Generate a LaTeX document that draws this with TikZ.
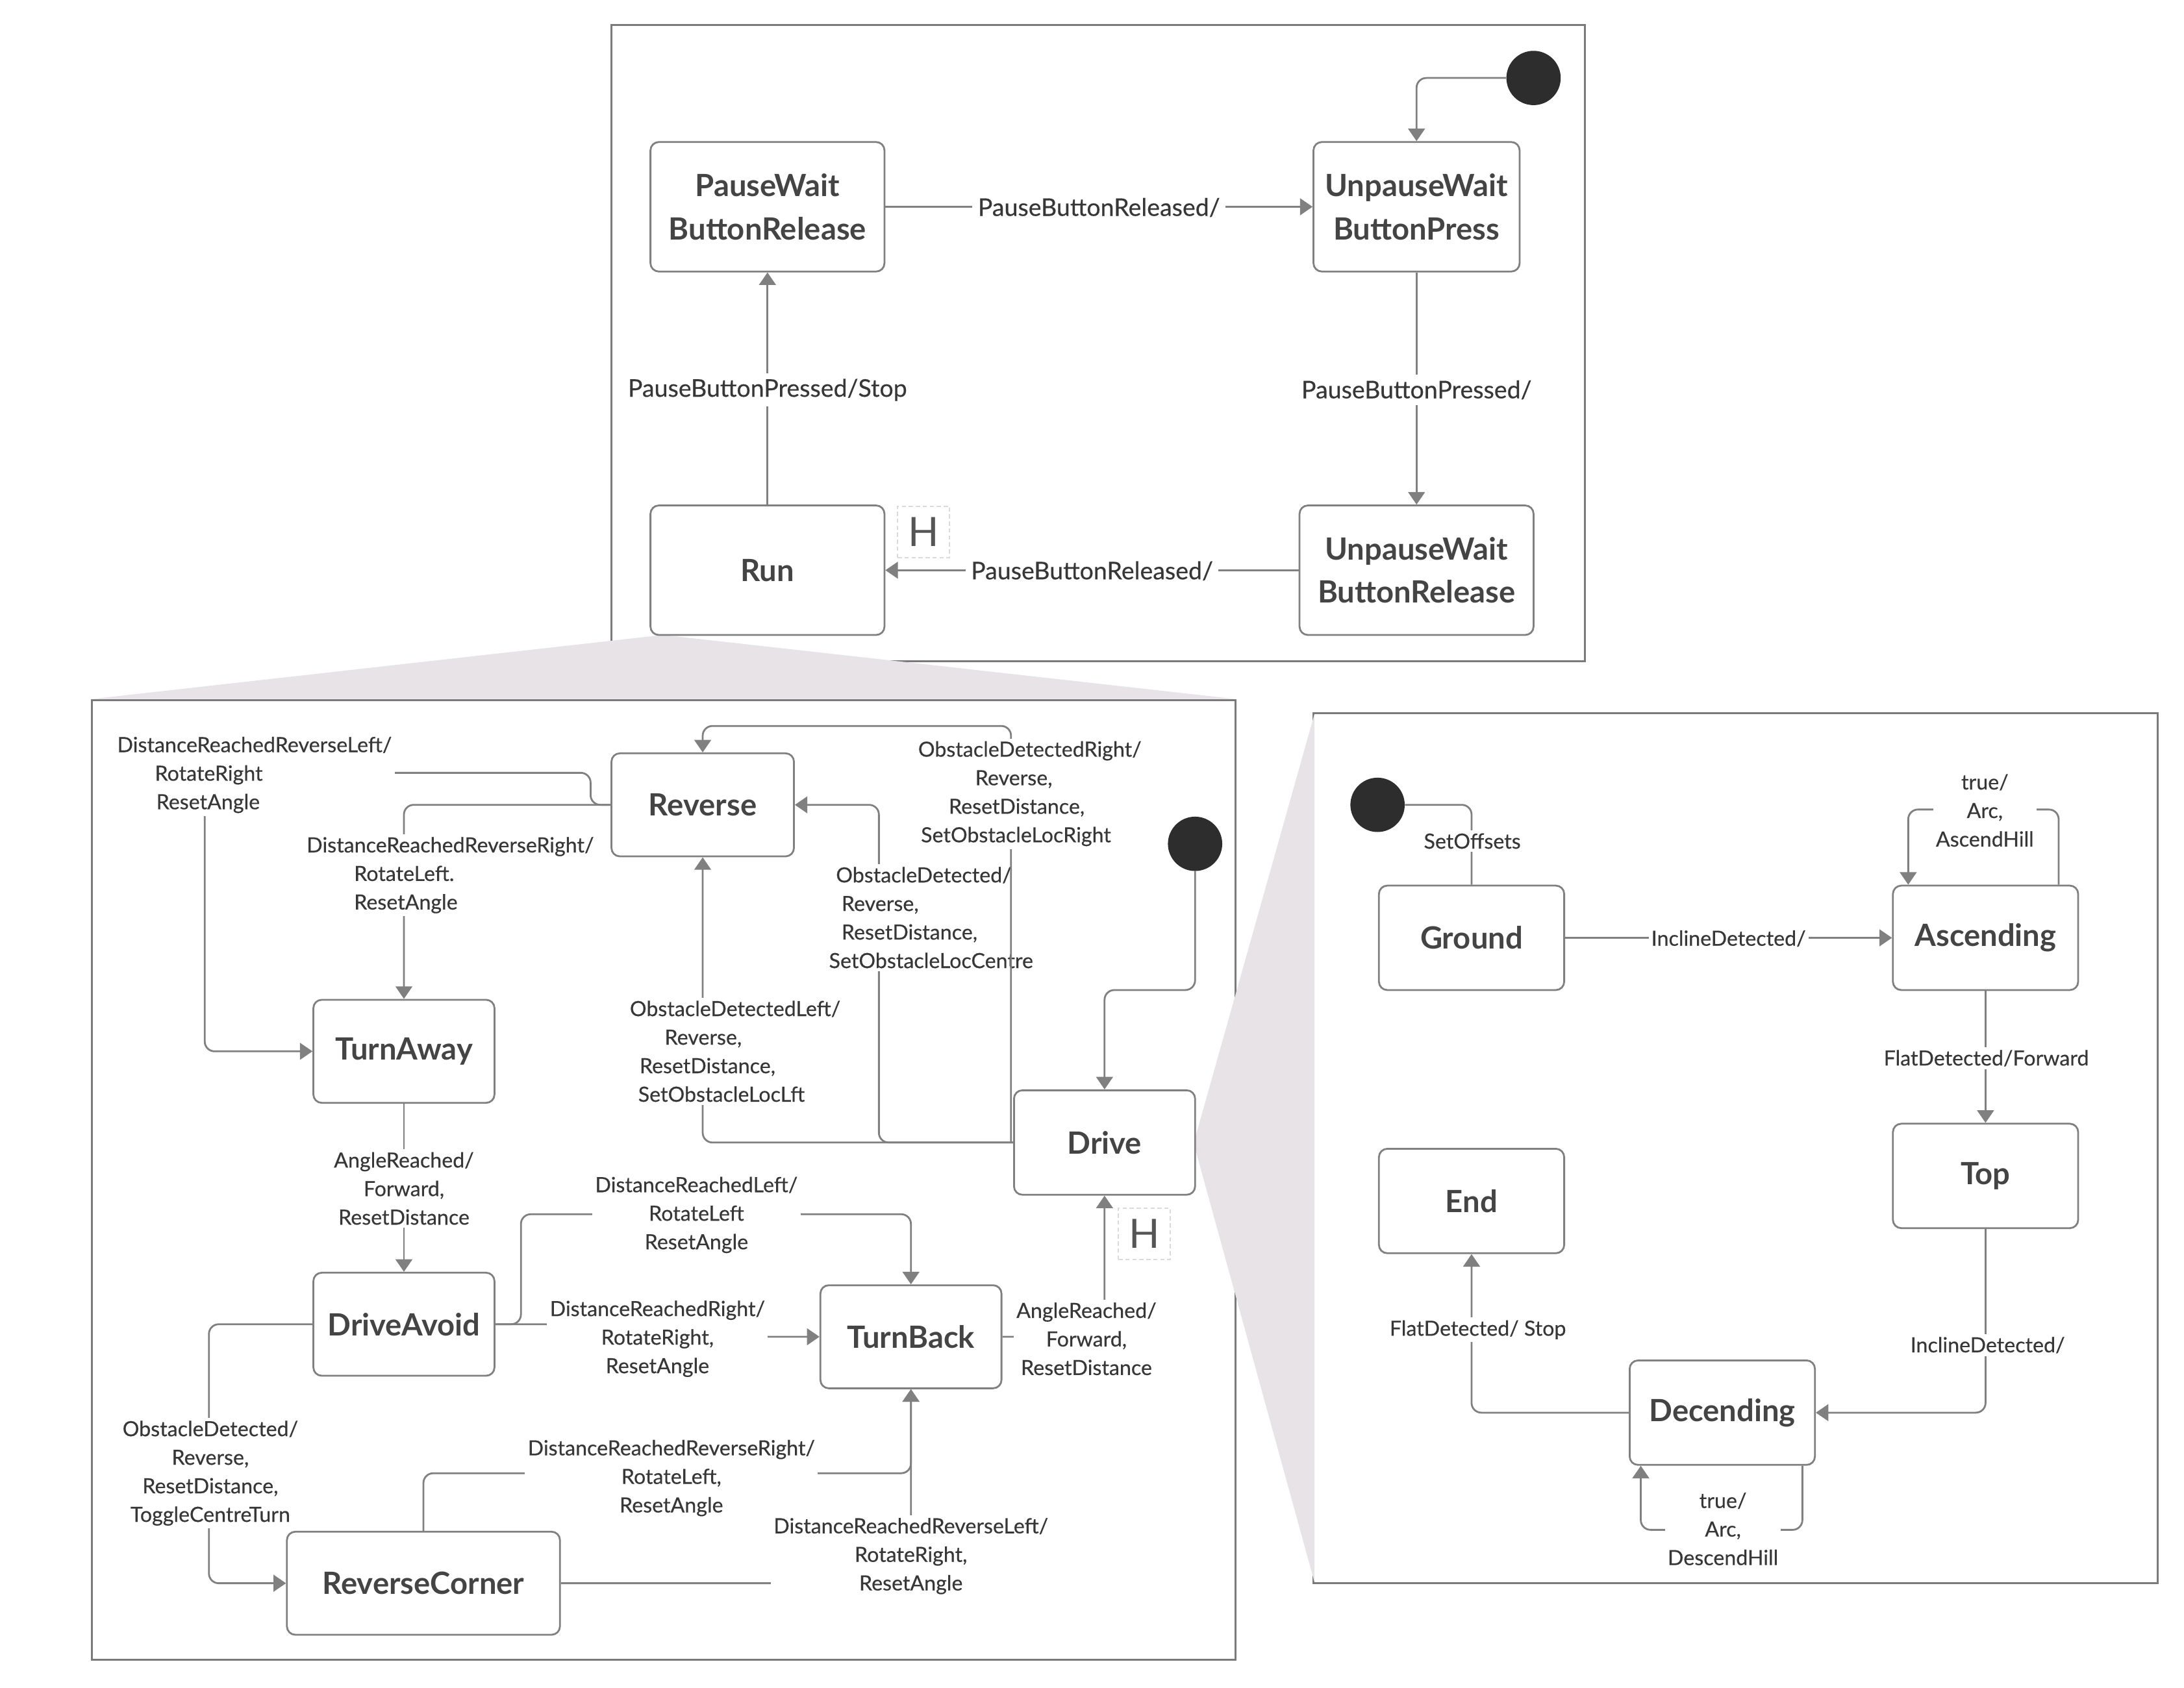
\documentclass[tikz,border=0pt]{standalone}
\usepackage{fontspec}
\setmainfont{Lato}
\newfontfamily\lblfam{Lato}[FakeBold=0.4]
\usetikzlibrary{arrows.meta}
\definecolor{lgray}{RGB}{128,128,128}
\definecolor{bgray}{RGB}{122,122,122}
\definecolor{stxt}{RGB}{68,68,68}
\definecolor{ltxt}{RGB}{55,55,55}
\definecolor{wedgec}{RGB}{231,227,231}
\definecolor{dotc}{RGB}{45,45,45}
\definecolor{hdash}{RGB}{218,218,218}
\definecolor{htxt}{RGB}{85,85,85}
\newcommand\stfont{\bfseries\fontsize{22}{31}\selectfont}
\newcommand\lfont{\lblfam\fontsize{15}{20.5}\selectfont}
\newcommand\tfont{\lblfam\fontsize{17.5}{22}\selectfont}
\newcommand\hfont{\fontsize{29}{32}\selectfont}
\begin{document}
\begin{tikzpicture}[x=1pt,y=-1pt,
  container/.style={draw=bgray,line width=1.5pt,fill=white},
  state/.style={draw=lgray,line width=1.3pt,fill=white,rounded corners=6pt,text=stxt,font=\stfont,align=center,inner sep=0pt},
  conn/.style={draw=lgray,line width=1.3pt,rounded corners=7pt,-{Triangle[width=12pt,length=9pt]}},
  plainc/.style={draw=lgray,line width=1.3pt,rounded corners=7pt},
  lbl/.style={fill=white,inner sep=2pt,text=ltxt,font=\lfont,align=center},
  tlbl/.style={fill=white,inner sep=4pt,text=ltxt,font=\tfont,align=center},
  llbl/.style={lbl,align=left,anchor=west},
  initdot/.style={circle,fill=dotc,minimum size=39pt,inner sep=0pt},
  hist/.style={draw=hdash,dash pattern=on 3pt off 2pt,line width=1pt,minimum width=37pt,minimum height=37pt,text=htxt,font=\hfont,inner sep=0pt},
]
\useasboundingbox (0,0) rectangle (1568,1212);
% containers
\draw[container] (439,18) rectangle (1138,475);
\draw[container] (66,503) rectangle (887,1192);
\draw[container] (943,512) rectangle (1549,1137);
% zoom wedges
\fill[wedgec] (476,456) -- (66,502) -- (887,502) -- cycle;
\fill[wedgec] (857,821) -- (943.7,512.8) -- (943.7,1136.2) -- cycle;

% ---------- top machine
\node[state,minimum width=168pt,minimum height=93pt] (pw) at (551,148.5) {PauseWait\\ButtonRelease};
\node[state,minimum width=148pt,minimum height=93pt] (uwbp) at (1017,148.5) {UnpauseWait\\ButtonPress};
\node[state,minimum width=168pt,minimum height=93pt] (run) at (551,409.5) {Run};
\node[state,minimum width=168pt,minimum height=93pt] (uwbr) at (1017,409.5) {UnpauseWait\\ButtonRelease};
\node[initdot] (i1) at (1101,56) {};
\node[hist] (h1) at (663,382) {H};

\draw[conn] (i1.west) -| (uwbp.north);
\draw[conn] (pw.east) -- (uwbp.west);
\draw[conn] (uwbp.south) -- (uwbr.north);
\draw[conn] (uwbr.west) -- (run.east);
\draw[conn] (run.north) -- (pw.south);
\node[tlbl] (t1) at (789,149) {PauseButtonReleased/};
\node[tlbl] (t2) at (1017,280) {PauseButtonPressed/};
\node[tlbl] (t3) at (784,410) {PauseButtonReleased/};
\node[tlbl] (t4) at (551,280) {PauseButtonPressed/Stop};

% ---------- run sub-machine
\node[state,minimum width=131pt,minimum height=74pt] (rev) at (504.5,578) {Reverse};
\node[state,minimum width=130pt,minimum height=74pt] (ta) at (290,755) {TurnAway};
\node[state,minimum width=130pt,minimum height=75pt] (drv) at (793,820.5) {Drive};
\node[state,minimum width=130pt,minimum height=74pt] (da) at (290,951) {DriveAvoid};
\node[state,minimum width=130pt,minimum height=74pt] (tb) at (654,960) {TurnBack};
\node[state,minimum width=196pt,minimum height=74pt] (rc) at (304,1137) {ReverseCorner};
\node[initdot] (i2) at (858,606) {};
\node[hist] (h2) at (821.5,886) {H};

\draw[conn] (rev.west) -- (424,578) -- (424,555) -- (147,555) -- (147,755) -- (ta.west);
\draw[conn] (rev.west) -- (290,578) -- (ta.north);
\draw[conn] (drv.west) -- (631,820.5) -- (631,578) -- (rev.east);
\draw[conn] (drv.west) -| (rev.south);
\draw[conn] (i2.south) -- (858,711) -- (793,711) -- (drv.north);
\draw[conn] (ta.south) -- (da.north);
\draw[conn] (da.east) -- (374,951) -- (374,872) -- (654,872) -- (tb.north);
\draw[conn] (da.east) -- (472,951) -- (472,960) -- (tb.west);
\draw[conn] (tb.east) -| (drv.south);
\draw[conn] (da.west) -- (150,951) -- (150,1137) -- (rc.west);
\draw[conn] (rc.north) -- (304,1058) -- (654,1058) -- (tb.south);
\draw[conn] (rc.east) -| (tb.south);

\node[llbl] (ld) at (593,659) {\hspace*{5pt}ObstacleDetected/\\\hspace*{9pt}Reverse,\\\hspace*{9pt}ResetDistance,\\SetObstacleLocCentre};
\draw[conn] ([xshift=-1.5pt]drv.west) |- ([yshift=19pt]rev.north) -- (rev.north);

\node[llbl] (la) at (82,556.5) {DistanceReachedReverseLeft/\\\hspace*{27pt}RotateRight\\\hspace*{28pt}ResetAngle};
\node[llbl] (lb) at (218,628.5) {DistanceReachedReverseRight/\\\hspace*{34pt}RotateLeft.\\\hspace*{34pt}ResetAngle};
\node[llbl] (lc) at (657,570) {ObstacleDetectedRight/\\\hspace*{41pt}Reverse,\\\hspace*{22pt}ResetDistance,\\\hspace*{2pt}SetObstacleLocRight};
\node[llbl] (le) at (450,755) {ObstacleDetectedLeft/\\\hspace*{25pt}Reverse,\\\hspace*{7pt}ResetDistance,\\\hspace*{6pt}SetObstacleLocLft};
\node[lbl] (lf) at (290,853.5) {AngleReached/\\Forward,\\ResetDistance};
\node[lbl] (lg) at (500,872.5) {DistanceReachedLeft/\\RotateLeft\\ResetAngle};
\node[lbl] (lh) at (472,961.5) {DistanceReachedRight/\\RotateRight,\\ResetAngle};
\node[lbl] (li) at (780,961.5) {AngleReached/\\Forward,\\ResetDistance};
\node[lbl] (lj) at (151,1058) {ObstacleDetected/\\Reverse,\\ResetDistance,\\ToggleCentreTurn};
\node[lbl] (lk) at (482,1061.5) {DistanceReachedReverseRight/\\RotateLeft,\\ResetAngle};
\node[lbl] (ll) at (654,1117.5) {DistanceReachedReverseLeft/\\RotateRight,\\ResetAngle};

% ---------- hill sub-machine
\node[state,minimum width=133pt,minimum height=75pt] (gr) at (1056.5,673.5) {Ground};
\node[state,minimum width=133pt,minimum height=75pt] (asc) at (1425.5,673.5) {Ascending};
\node[state,minimum width=133pt,minimum height=75pt] (topst) at (1425.5,844.5) {Top};
\node[state,minimum width=133pt,minimum height=75pt] (endst) at (1056.5,862.5) {End};
\node[state,minimum width=133pt,minimum height=75pt] (dec) at (1236.5,1014.5) {Decending};
\node[initdot] (i3) at (989,578) {};

\draw[plainc] (i3.east) -| (gr.north);
\draw[conn] (gr.east) -- (asc.west);
\draw[conn] ([xshift=52.5pt]asc.north) -- ++(0,-54) -| ([xshift=-55.5pt]asc.north);
\draw[conn] (asc.south) -- (topst.north);
\draw[conn] (topst.south) |- (dec.east);
\draw[conn] (dec.west) -| (endst.south);
\draw[conn] ([xshift=57.5pt]dec.south) -- ++(0,46) -| ([xshift=-58.5pt]dec.south);

\node[lbl] (r1) at (1057,604) {SetOffsets};
\node[lbl] (r2) at (1241,674) {InclineDetected/};
\node[lbl] (r3) at (1425,582) {true/\\Arc,\\AscendHill};
\node[lbl] (r4) at (1426,760) {FlatDetected/Forward};
\node[lbl] (r5) at (1427,966) {InclineDetected/};
\node[lbl] (r6) at (1061,955) {FlatDetected/ Stop};
\node[lbl] (r7) at (1237,1098) {true/\\Arc,\\DescendHill};
\end{tikzpicture}
\end{document}
